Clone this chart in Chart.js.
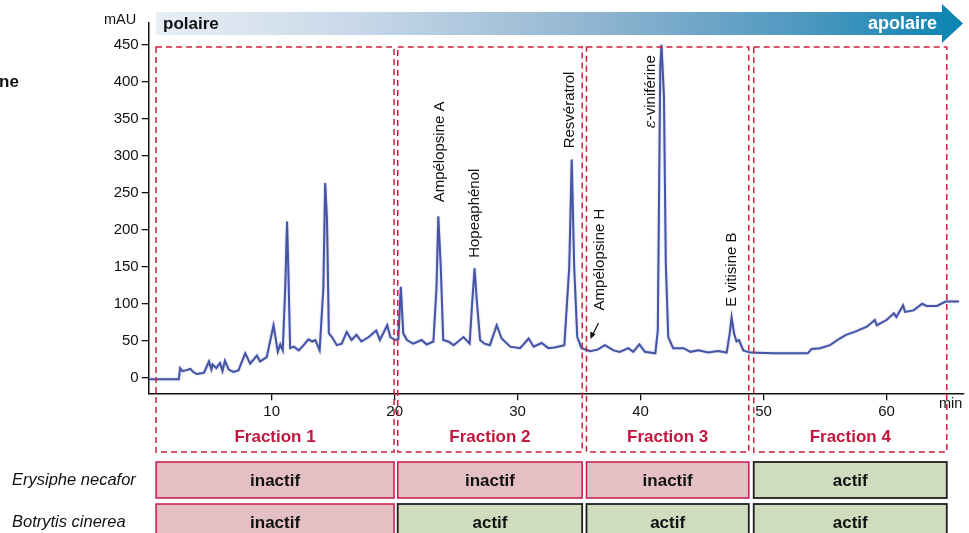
<!DOCTYPE html>
<html lang="fr">
<head>
<meta charset="utf-8">
<title>Chromatogramme – fractions</title>
<script src="https://cdn.jsdelivr.net/npm/chart.js@4.4.1/dist/chart.umd.min.js"></script>
<style>
  html, body { margin: 0; padding: 0; background: #fff; }
  #wrap { width: 969px; height: 533px; position: relative; overflow: hidden; }
</style>
</head>
<body>
<div id="wrap"><canvas id="chromato" width="969" height="533"></canvas></div>
<script>
const tempsMin = [
  0, 2.45, 2.55, 2.75, 3.0, 3.4, 3.6, 3.9, 4.3, 4.5, 4.9, 5.1, 5.2, 5.5, 5.8, 6.0, 6.2, 6.5, 6.9, 7.3,
  7.85, 8.25, 8.8, 9.05, 9.6, 10.15, 10.5, 10.7, 10.9, 11.1, 11.25, 11.35, 11.5, 11.8, 12.2, 12.6, 13.0, 13.3, 13.55, 13.9,
  14.2, 14.35, 14.5, 14.65, 14.9, 15.3, 15.7, 16.1, 16.5, 16.9, 17.3, 17.9, 18.5, 18.8, 19.4, 19.65, 20.05, 20.3, 20.5, 20.7,
  21.0, 21.5, 22.2, 22.6, 23.15, 23.4, 23.55, 23.75, 23.95, 24.35, 24.8, 25.6, 26.1, 26.3, 26.5, 26.7, 26.95, 27.3, 27.75, 28.3,
  28.7, 29.4, 30.2, 30.9, 31.3, 31.95, 32.5, 33.0, 33.8, 34.2, 34.4, 34.6, 34.85, 35.2, 35.9, 36.5, 37.1, 37.8, 38.3, 39.0,
  39.4, 39.9, 40.35, 41.2, 41.4, 41.6, 41.7, 41.9, 42.05, 42.25, 42.65, 43.5, 44.05, 44.7, 45.5, 46.3, 47.0, 47.25, 47.4, 47.6,
  47.8, 48.0, 48.35, 48.9, 50.8, 53.6, 53.9, 54.6, 55.4, 56.2, 56.7, 57.4, 58.4, 59.05, 59.2, 60.0, 60.6, 60.8, 61.35, 61.5,
  62.2, 62.9, 63.25, 64.1, 64.8, 65.9
];
const absorbance = [
  -2, -2, 13, 9, 10, 12, 8, 5, 6, 7, 22, 11, 18, 13, 20, 9, 23, 11, 8, 10,
  33, 19, 30, 22, 28, 71, 35, 45, 37, 120, 211, 150, 40, 42, 37, 44, 52, 49, 51, 37,
  120, 263, 213, 60, 55, 44, 46, 62, 51, 58, 49, 55, 64, 51, 71, 55, 51, 52, 123, 60,
  51, 46, 51, 45, 49, 120, 218, 150, 51, 49, 44, 55, 46, 100, 148, 100, 51, 46, 44, 71,
  53, 42, 40, 53, 42, 47, 40, 41, 44, 150, 295, 150, 55, 40, 36, 38, 44, 37, 35, 40,
  35, 45, 35, 33, 64, 420, 450, 380, 155, 55, 40, 40, 35, 37, 34, 36, 34, 60, 82, 60,
  49, 51, 37, 34, 33, 33, 39, 40, 44, 53, 58, 62, 69, 78, 71, 78, 87, 82, 98, 89,
  91, 100, 97, 97, 103, 103
];
const ticksX = [10, 20, 30, 40, 50, 60];
const ticksY = [0, 50, 100, 150, 200, 250, 300, 350, 400, 450];

// fractions collectées (bornes en min) et activité antifongique
const fractions = ['Fraction 1', 'Fraction 2', 'Fraction 3', 'Fraction 4'];
const fractionDebut = [0.6, 20.25, 35.6, 49.2];
const fractionFin = [19.95, 35.25, 48.8, 64.9];
const erysiphe = ['inactif', 'inactif', 'inactif', 'actif'];
const botrytis = ['inactif', 'actif', 'actif', 'actif'];

// composés identifiés : nom, temps et hauteur d'ancrage de l'étiquette
const composes = ['Ampélopsine A', 'Hopeaphénol', 'Resvératrol', 'Ampélopsine H', 'ε-viniférine', 'E vitisine B'];
const composesTemps = [23.7, 26.5, 34.25, 36.7, 40.85, 47.4];
const composesMAU = [237, 162, 310, 91, 337, 96];

const POLICE = '"Liberation Sans", Arial, sans-serif';

document.addEventListener('DOMContentLoaded', function () {
    const points = tempsMin.map((t, i) => ({ x: t, y: absorbance[i] }));

    // tout ce qui entoure le tracé : flèche, cadres, tableau d'activité
    const decor = {
        id: 'decor',
        beforeDatasetsDraw(chart) {
            const ctx = chart.ctx;
            ctx.save();
            ctx.shadowColor = 'rgba(80, 90, 180, 0.45)';
            ctx.shadowBlur = 2;
        },
        afterDatasetsDraw(chart) {
            chart.ctx.restore();
        },
        afterDraw(chart) {
            const ctx = chart.ctx;
            const x = chart.scales.x;
            const y = chart.scales.y;
            ctx.save();

            // flèche polaire -> apolaire
            const g = ctx.createLinearGradient(156, 0, 963, 0);
            g.addColorStop(0, '#e8eef6');
            g.addColorStop(0.25, '#c8d8e8');
            g.addColorStop(0.55, '#8fb4d0');
            g.addColorStop(0.8, '#4f98c0');
            g.addColorStop(1, '#0a84b0');
            ctx.fillStyle = g;
            ctx.beginPath();
            ctx.moveTo(156, 12);
            ctx.lineTo(942, 12);
            ctx.lineTo(942, 4);
            ctx.lineTo(963, 23.5);
            ctx.lineTo(942, 43);
            ctx.lineTo(942, 35);
            ctx.lineTo(156, 35);
            ctx.closePath();
            ctx.fill();
            ctx.textBaseline = 'middle';
            ctx.font = 'bold 17px ' + POLICE;
            ctx.fillStyle = '#111';
            ctx.textAlign = 'left';
            ctx.fillText('polaire', 163, 24);
            ctx.font = 'bold 18px ' + POLICE;
            ctx.fillStyle = '#fff';
            ctx.textAlign = 'right';
            ctx.fillText('apolaire', 937, 24);

            // unités
            ctx.fillStyle = '#111';
            ctx.font = '14.5px ' + POLICE;
            ctx.textAlign = 'left';
            ctx.fillText('mAU', 104, 20);
            ctx.fillText('min', 939, 404);
            ctx.font = 'bold 17px ' + POLICE;
            ctx.fillText('ne', -1, 82);

            // étiquettes verticales des pics
            ctx.font = '15px ' + POLICE;
            composes.forEach((nom, i) => {
                ctx.save();
                ctx.translate(x.getPixelForValue(composesTemps[i]), y.getPixelForValue(composesMAU[i]));
                ctx.rotate(-Math.PI / 2);
                ctx.textAlign = 'left';
                ctx.fillStyle = '#111';
                if (nom.startsWith('ε')) {
                    ctx.font = 'italic 15px "DejaVu Serif", serif';
                    ctx.fillText('ε', 0, 0);
                    const w = ctx.measureText('ε').width;
                    ctx.font = '15px ' + POLICE;
                    ctx.fillText(nom.slice(1), w, 0);
                } else {
                    ctx.fillText(nom, 0, 0);
                }
                ctx.restore();
            });

            // petite flèche vers Ampélopsine H
            ctx.strokeStyle = '#111';
            ctx.fillStyle = '#111';
            ctx.lineWidth = 1.2;
            ctx.beginPath();
            ctx.moveTo(598.5, 323);
            ctx.lineTo(592.5, 335);
            ctx.stroke();
            ctx.beginPath();
            ctx.moveTo(590.5, 339);
            ctx.lineTo(590.2, 331.5);
            ctx.lineTo(595.5, 334.2);
            ctx.closePath();
            ctx.fill();

            // cadres pointillés des fractions
            ctx.strokeStyle = '#cc1f3d';
            ctx.lineWidth = 1.5;
            ctx.setLineDash([6, 4]);
            fractions.forEach((f, i) => {
                const x0 = x.getPixelForValue(fractionDebut[i]);
                const x1 = x.getPixelForValue(fractionFin[i]);
                ctx.strokeRect(x0, 47, x1 - x0, 405);
            });
            ctx.setLineDash([]);
            ctx.font = 'bold 17px ' + POLICE;
            ctx.fillStyle = '#c4163c';
            ctx.textAlign = 'center';
            fractions.forEach((f, i) => {
                const xc = (x.getPixelForValue(fractionDebut[i]) + x.getPixelForValue(fractionFin[i])) / 2;
                ctx.fillText(f, xc, 437);
            });

            // tableau d'activité
            ctx.font = 'italic 16.5px ' + POLICE;
            ctx.fillStyle = '#111';
            ctx.textAlign = 'left';
            ctx.fillText('Erysiphe necafor', 12, 480);
            ctx.fillText('Botrytis cinerea', 12, 522);
            const rangees = [[erysiphe, 462, 36], [botrytis, 504, 40]];
            rangees.forEach(([etats, top, h]) => {
                etats.forEach((etat, i) => {
                    const x0 = x.getPixelForValue(fractionDebut[i]);
                    const x1 = x.getPixelForValue(fractionFin[i]);
                    const actif = etat === 'actif';
                    ctx.fillStyle = actif ? '#d0dcbe' : '#e4c0c5';
                    ctx.strokeStyle = actif ? '#1f1f1f' : '#c8174a';
                    ctx.lineWidth = actif ? 1.8 : 1.5;
                    ctx.fillRect(x0, top, x1 - x0, h);
                    ctx.strokeRect(x0, top, x1 - x0, h);
                    ctx.fillStyle = '#111';
                    ctx.font = 'bold 17px ' + POLICE;
                    ctx.textAlign = 'center';
                    ctx.fillText(etat, (x0 + x1) / 2, top + 19);
                });
            });
            ctx.restore();
        }
    };

    new Chart(document.getElementById('chromato').getContext('2d'), {
        type: 'line',
        data: {
            datasets: [{
                label: 'Absorbance',
                data: points,
                borderColor: '#4654a6',
                borderWidth: 2,
                pointRadius: 0,
                tension: 0,
                fill: false
            }]
        },
        options: {
            responsive: false,
            animation: false,
            layout: { padding: { left: 88.7, right: 5, top: 22.5, bottom: 109.7 } },
            plugins: { legend: { display: false }, tooltip: { enabled: false } },
            scales: {
                x: {
                    type: 'linear',
                    min: 0,
                    max: 66.3,
                    afterBuildTicks: s => { s.ticks = ticksX.map(v => ({ value: v })); },
                    afterFit: s => { s.height = 30; },
                    border: { color: '#111', width: 1.5 },
                    grid: { drawOnChartArea: false, tickLength: 7, color: '#111', lineWidth: 1.3 },
                    ticks: { color: '#111', padding: 3, maxRotation: 0, font: { family: POLICE, size: 15 } }
                },
                y: {
                    min: -21,
                    max: 480,
                    afterBuildTicks: s => { s.ticks = ticksY.map(v => ({ value: v })); },
                    afterFit: s => { s.width = 60; },
                    border: { color: '#111', width: 1.5 },
                    grid: { drawOnChartArea: false, tickLength: 7, color: '#111', lineWidth: 1.3 },
                    ticks: { color: '#111', padding: 3, font: { family: POLICE, size: 15 } }
                }
            }
        },
        plugins: [decor]
    });
});
</script>
</body>
</html>
